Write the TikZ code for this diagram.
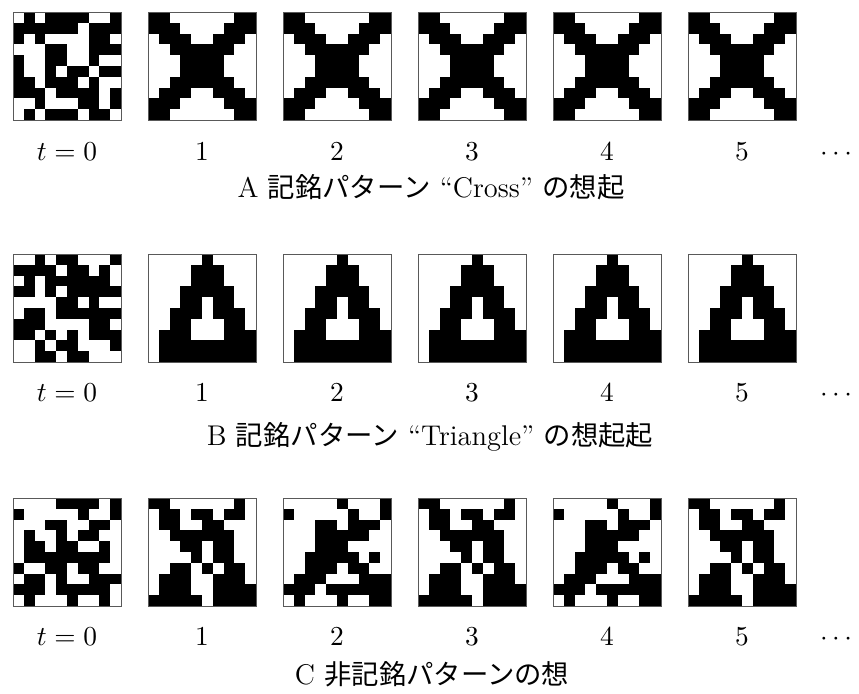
\documentclass[tikz,border=0pt]{standalone}
\usepackage{fontspec}
\newfontfamily\jpfont{Noto Sans CJK JP}[Scale=0.96]
\usetikzlibrary{positioning,calc}

% 10x10 patterns, 1 = black cell
\def\randA{{0,1,0,1,1,1,1,0,0,1},{1,1,1,1,1,1,0,1,1,1},{1,0,1,0,0,0,0,1,1,0},{0,0,0,1,1,0,0,1,1,1},{1,0,0,1,1,0,0,1,0,0},{1,0,0,1,0,1,1,0,1,1},{1,1,0,1,1,1,0,1,0,0},{1,1,1,0,1,1,1,1,0,1},{0,0,1,0,0,0,1,1,0,1},{0,1,0,1,1,1,0,1,1,0}}
\def\crossP{{1,1,0,0,0,0,0,0,1,1},{1,1,1,0,0,0,0,1,1,1},{0,1,1,1,0,0,1,1,1,0},{0,0,1,1,1,1,1,1,0,0},{0,0,0,1,1,1,1,0,0,0},{0,0,0,1,1,1,1,0,0,0},{0,0,1,1,1,1,1,1,0,0},{0,1,1,1,0,0,1,1,1,0},{1,1,1,0,0,0,0,1,1,1},{1,1,0,0,0,0,0,0,1,1}}
\def\randB{{0,0,1,0,1,1,0,0,0,1},{1,1,1,1,0,1,1,0,1,0},{0,1,0,1,1,1,1,1,1,0},{1,1,0,1,0,1,1,1,1,1},{0,0,0,0,1,1,0,1,0,0},{0,1,1,0,1,1,1,1,1,1},{1,1,1,0,0,0,0,1,1,0},{1,1,0,1,0,1,0,1,1,1},{0,0,1,0,1,1,0,0,0,1},{0,0,1,1,0,1,1,0,0,0}}
\def\triP{{0,0,0,0,0,1,0,0,0,0},{0,0,0,0,1,1,1,0,0,0},{0,0,0,0,1,1,1,0,0,0},{0,0,0,1,1,1,1,1,0,0},{0,0,0,1,1,0,1,1,0,0},{0,0,1,1,1,0,1,1,1,0},{0,0,1,1,0,0,0,1,1,0},{0,1,1,1,0,0,0,1,1,1},{0,1,1,1,1,1,1,1,1,1},{0,1,1,1,1,1,1,1,1,1}}
\def\randC{{0,0,0,0,1,1,1,1,0,1},{1,0,0,0,0,0,1,0,0,1},{0,0,0,1,1,0,0,1,1,0},{0,1,0,0,1,0,1,1,0,0},{0,1,1,0,1,1,0,0,1,0},{0,1,1,1,1,1,1,1,1,0},{1,0,0,1,1,0,1,1,0,0},{0,1,1,0,1,0,0,1,1,1},{1,1,1,0,1,1,1,1,1,0},{0,1,0,0,0,1,0,0,1,0}}
\def\spurA{{1,1,0,0,0,0,0,0,1,0},{0,1,1,0,1,1,0,1,1,0},{0,1,1,0,0,1,1,0,0,0},{0,0,1,1,1,1,1,1,0,0},{0,0,0,1,1,0,1,1,0,0},{0,0,0,0,1,0,1,1,0,0},{0,0,1,1,0,1,0,1,1,0},{0,1,1,1,0,0,1,1,1,0},{0,1,1,1,0,0,1,1,1,1},{1,1,1,1,1,0,1,1,1,1}}
\def\spurB{{0,0,0,0,0,1,0,0,0,1},{1,0,0,0,0,0,1,0,0,1},{0,0,0,1,1,0,1,1,1,0},{0,0,0,1,1,1,1,1,0,0},{0,0,0,1,1,1,0,0,0,0},{0,0,1,1,1,1,1,0,1,0},{0,0,1,1,1,0,1,1,0,0},{0,1,1,1,0,0,0,1,1,1},{1,1,1,0,1,1,1,1,1,1},{0,1,0,0,0,1,0,0,1,1}}

% name, x, y (top left), pattern
\newcommand\cellgrid[4]{%
  \node[gridbox] (#1) at (#2,#3) {};
  \foreach \cells [count=\r from 0] in #4 {
    \foreach \v [count=\c from 0] in \cells {
      \ifnum\v=1
        \fill ($(#1.north west)+(\c*10.8,\r*10.8)$) rectangle ++(10.8,10.8);
      \fi
    }
  }
  \draw[gridframe] (#1.north west) rectangle (#1.south east);
}

\begin{document}
\begin{tikzpicture}[
  x=0.4pt, y=-0.4pt,
  every node/.style={font=\fontsize{11.4}{13.5}\selectfont},
  gridbox/.style={anchor=north west, minimum width=43.2pt, minimum height=43.2pt, inner sep=0pt, outer sep=0pt},
  gridframe/.style={draw=black!65, line width=0.4pt},
  steplabel/.style={anchor=base},
  caption/.style={anchor=base}
]
\useasboundingbox (0,0) rectangle (859,693);

% A: Cross
\cellgrid{a0}{13}{12}{\randA}
\foreach \k in {1,...,5} {\cellgrid{a\k}{13+135*\k}{12}{\crossP}}
% B: Triangle
\cellgrid{b0}{13}{254}{\randB}
\foreach \k in {1,...,5} {\cellgrid{b\k}{13+135*\k}{254}{\triP}}
% C: not stored
\cellgrid{c0}{13}{498}{\randC}
\cellgrid{c1}{148}{498}{\spurA}
\cellgrid{c2}{283}{498}{\spurB}
\cellgrid{c3}{418}{498}{\spurA}
\cellgrid{c4}{553}{498}{\spurB}
\cellgrid{c5}{688}{498}{\spurA}

\foreach \row/\ty in {a/160, b/401, c/645} {
  \node[steplabel] (\row t0) at (67,\ty) {$t=0$};
  \foreach \k in {1,...,5} {\node[steplabel] (\row t\k) at ({67+135*\k},\ty) {$\k$};}
  \node[steplabel] (\row dots) at (836,\ty) {$\cdots$};
}
\node[caption] (capa) at (431,197) {A {\jpfont 記銘パターン} ``Cross'' {\jpfont の想起}};
\node[caption] (capb) at (430,445) {B {\jpfont 記銘パターン} ``Triangle'' {\jpfont の想起起}};
\node[caption] (capc) at (432,684) {C {\jpfont 非記銘パターンの想}};
\end{tikzpicture}
\end{document}
